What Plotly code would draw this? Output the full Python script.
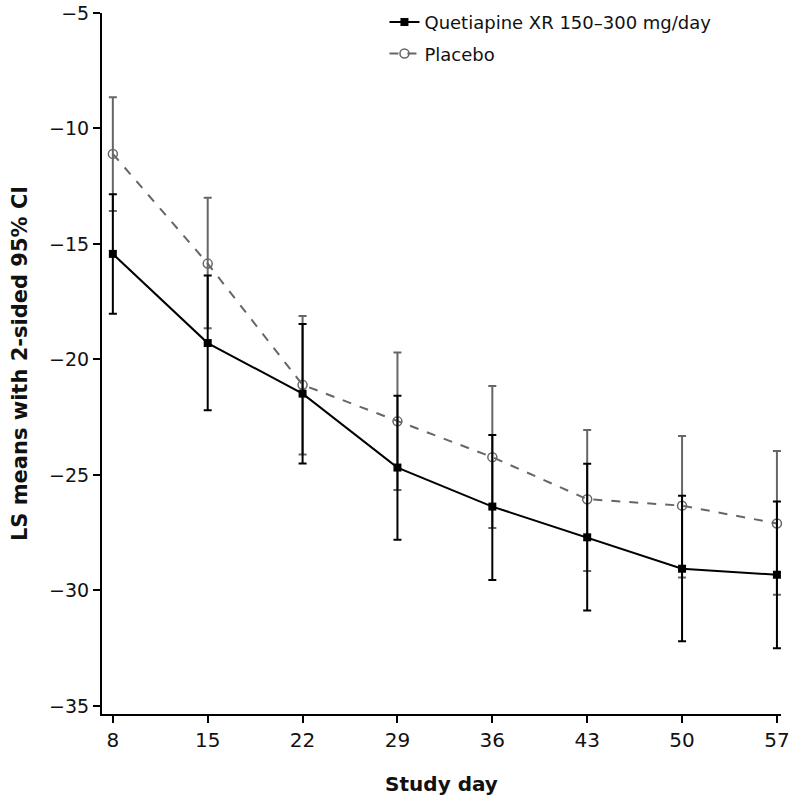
import plotly.graph_objects as go

days = [8, 15, 22, 29, 36, 43, 50, 57]
x_ticks = [8, 15, 22, 29, 36, 43, 50, 57]
y_ticks = [-5, -10, -15, -20, -25, -30, -35]

quet_mean = [-15.43, -19.29, -21.48, -24.68, -26.37, -27.70, -29.06, -29.32]
quet_upper = [-12.85, -16.36, -18.46, -21.57, -23.27, -24.52, -25.90, -26.15]
quet_lower = [-18.02, -22.20, -24.50, -27.81, -29.55, -30.87, -32.20, -32.50]

plac_mean = [-11.10, -15.85, -21.10, -22.68, -24.23, -26.05, -26.33, -27.10]
plac_upper = [-8.65, -13.00, -18.12, -19.70, -21.15, -23.05, -23.31, -23.96]
plac_lower = [-13.57, -18.65, -24.12, -25.65, -27.30, -29.16, -29.44, -30.19]

FONT = "DejaVu Sans, Liberation Sans, Arial, sans-serif"

fig = go.Figure()

fig.add_trace(go.Scatter(
    x=days, y=plac_mean, name="Placebo", mode="lines+markers", legendgroup="p",
    legendrank=2, cliponaxis=False,
    line=dict(color="#666666", width=2, dash="dash"),
    marker=dict(symbol="circle-open", size=9, color="#666666", line=dict(width=1.5)),
    error_y=dict(type="data", symmetric=False,
                 array=[u - m for u, m in zip(plac_upper, plac_mean)],
                 arrayminus=[m - l for m, l in zip(plac_mean, plac_lower)],
                 color="#666666", thickness=2, width=4),
))

fig.add_trace(go.Scatter(
    x=days, y=quet_mean, name="Quetiapine XR 150–300 mg/day", mode="lines+markers",
    legendgroup="q", legendrank=1, cliponaxis=False,
    line=dict(color="#000000", width=2),
    marker=dict(symbol="square", size=8, color="#000000"),
    error_y=dict(type="data", symmetric=False,
                 array=[u - m for u, m in zip(quet_upper, quet_mean)],
                 arrayminus=[m - l for m, l in zip(quet_mean, quet_lower)],
                 color="#000000", thickness=2, width=4),
))

fig.update_layout(
    width=792, height=798,
    margin=dict(l=102, r=11, t=13, b=84, autoexpand=False),
    plot_bgcolor="white", paper_bgcolor="white",
    font=dict(family=FONT, color="#111111", size=18),
    showlegend=True,
    legend=dict(x=0.416, y=1.013, xanchor="left", yanchor="top",
                traceorder="grouped", font=dict(size=18, color="#111111", family=FONT),
                bgcolor="rgba(0,0,0,0)", itemwidth=30, tracegroupgap=5),
    xaxis=dict(range=[7.2, 57.3], tickvals=x_ticks, ticktext=[str(t) for t in x_ticks],
               automargin=False,
               showgrid=False, zeroline=False, showline=True, linecolor="black",
               linewidth=2, ticks="outside", ticklen=7, tickwidth=2, tickcolor="black",
               tickfont=dict(size=20, color="#111111", family=FONT),
               title=dict(text="<b>Study day</b>", font=dict(size=20, color="#111111", family=FONT), standoff=26)),
    yaxis=dict(range=[-35.35, -5], tickvals=y_ticks,
               automargin=False,
               showgrid=False, zeroline=False, showline=True, linecolor="black",
               linewidth=2, ticks="outside", ticklen=7, tickwidth=2, tickcolor="black",
               ticksuffix=" ",
               tickfont=dict(size=19, color="#111111", family=FONT),
               title=dict(text="<b>LS means with 2-sided 95% CI</b>", font=dict(size=21, color="#111111", family=FONT), standoff=16)),
)

fig.write_html("out.html", config={"displayModeBar": False},
               post_script="document.body.style.margin='0';document.body.style.overflow='hidden';")
